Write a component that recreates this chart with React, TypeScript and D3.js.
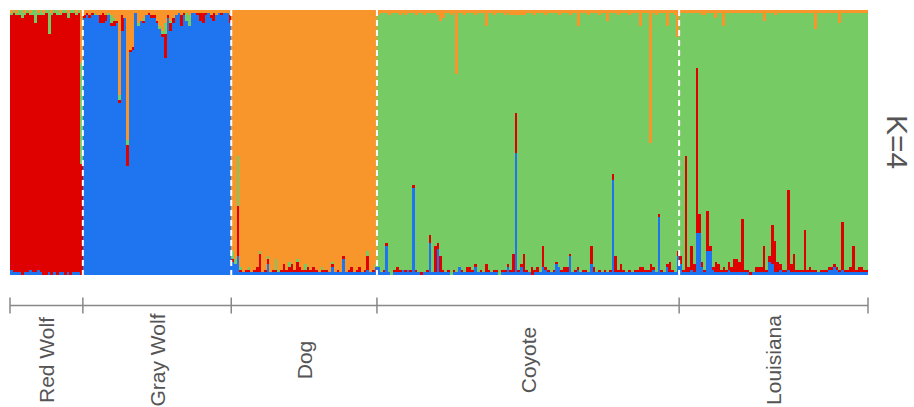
import * as d3 from "d3";

// cluster colours (STRUCTURE K=4)
const clusterKeys = ["blue", "red", "green", "orange"];
const clusterColors: Record<string, string> = {
  blue: "#1f74f0",
  red: "#df0000",
  green: "#77cb64",
  orange: "#f8962b",
};

const groupNames = ["Red Wolf", "Gray Wolf", "Dog", "Coyote", "Louisiana"];
const dominantCluster = ["red", "blue", "orange", "green", "green"];

// ancestry (%) per individual, dominant cluster is what is left over
const redWolfGreen = [1,1,1,2,3,1,1,1,2,5,1,2,1,1,9,1,1,2,1,1,1,2,1,1,1,1,38];
const redWolfOrange = [1,0,1,0,0,1,0,1,0,0,1,0,1,0,0,1,0,0,1,0,0,1,0,0,1,0,20];
const redWolfBlue = [2,1,1,1,0,1,1,2,1,1,2,1,0,0,1,0,1,0,1,1,0,1,0,1,1,1,0];

const grayWolfOrange = [2,1,2,1,1, 2,2,1,2,1, 2,3,4,32,2, 3,49,15,14,1, 5,4,3,2,1, 2,2,4,6,8, 5,2,4,3,2, 1,2,1,1,2, 1,1,1,1,1, 1,1,2,1,2, 1,1,1,1,2];
const grayWolfGreen = [0,0,0,0,1, 0,0,0,0,1, 3,1,0,2,0, 0,2,0,0,0, 1,0,1,0,0, 0,0,0,1,1, 4,0,1,0,0, 0,0,0,3,4, 0,0,0,0,0, 0,0,0,0,0, 0,0,0,0,0];
const grayWolfRed = [1,1,1,1,0, 0,3,4,2,0, 1,2,1,1,6, 0,8,1,1,0, 0,0,1,0,1, 1,1,1,0,1, 9,1,3,2,0, 0,4,1,0,0, 0,0,1,3,4, 1,0,1,3,0, 0,1,0,0,3];

const dogBlue = [5,4,7,1,1, 1,1,1,1,1, 1,1,1,4,1, 1,1,1,1,1, 1,1,1,1,1, 1,1,1,1,1, 1,1,1,1,1, 1,1,3,1,1, 1,6,1,1,1, 1,1,1,1,1, 2,1,1,3];
const dogRed = [1,0,19,1,0, 1,1,0,1,2, 7,0,1,2,0, 1,1,0,1,3, 1,2,3,1,4, 2,1,1,2,1, 2,1,0,1,1, 1,0,1,0,1, 0,1,0,1,2, 0,1,2,0,1, 5,0,1,0];
const dogGreen = [3,2,19,1,0, 0,1,0,0,0, 1,0,0,1,0, 0,4,1,0,0, 0,2,0,0,1, 0,0,2,0,0, 0,0,0,1,0, 0,0,1,0,0, 0,0,0,0,0, 0,0,0,0,0, 2,0,0,1];

const coyoteBlue = [
  3,1,1,11,1,0,1,1,1,2, 1,2,1,33,1,1,0,1,1,12, 1,1,10,1,1,1,1,0,1,1, 3,1,1,1,1,1,3,1,1,1,
  1,1,1,1,1,0,1,1,3,1, 1,46,1,3,1,1,1,0,1,1, 1,3,2,1,1,1,4,3,1,1, 1,7,1,1,2,1,1,1,1,4,
  1,1,1,1,1,1,1,36,1,1, 1,1,1,1,1,1,1,1,1,1, 1,1,2,1,22,1,1,3,1,1, 1,7];
const coyoteRed = [
  0,0,1,1,0,0,1,2,1,0, 1,0,1,1,1,0,1,0,1,3, 0,10,2,6,1,0,1,0,1,0, 0,1,0,2,2,1,1,0,1,0,
  3,1,0,1,1,0,1,1,1,1, 7,15,1,1,7,1,0,3,1,2, 0,8,1,1,0,1,1,0,1,2, 2,1,0,1,1,0,1,1,0,7,
  2,0,1,0,1,0,1,2,6,1, 3,1,0,1,0,1,1,2,2,1, 1,3,1,0,1,1,0,1,4,1, 0,2];
const coyoteOrange = [
  2,1,1,1,2,1,1,1,2,1, 2,1,1,1,2,1,1,2,1,1, 1,1,2,4,3,1,1,2,1,24, 1,1,2,1,1,1,2,1,1,1,
  6,1,1,2,1,1,1,2,1,2, 2,2,2,2,2,1,1,1,2,1, 1,1,2,1,1,1,1,2,1,1, 1,2,1,1,6,1,1,1,2,1,
  1,1,2,1,1,4,1,1,1,2, 1,1,1,2,1,1,1,6,1,1, 1,50,1,2,1,1,1,6,1,1, 2,10];

const louisianaBlue = [
  4,1,1,1,2,1,16,16,3,1, 9,9,2,1,1,1,1,1,2,1, 1,1,1,1,1,1,0,1,1,1, 1,1,1,5,4,1,1,2,1,1,
  2,1,1,1,1,1,1,1,1,1, 1,1,1,1,1,2,2,3,2,1, 2,1,1,1,1,1,1,1,1,1];
const louisianaRed = [
  3,1,44,2,9,3,62,7,2,1, 15,2,1,4,3,1,2,1,3,2, 5,5,4,20,1,1,1,0,2,2, 2,10,1,2,15,12,4,2,1,1,
  30,3,7,1,1,1,16,1,2,1, 1,0,1,1,1,1,1,1,1,1, 18,1,1,2,10,1,2,2,1,1];
const louisianaOrange = [
  1,1,1,1,1,1,1,1,2,2, 1,1,1,3,1,1,6,1,1,1, 1,1,1,1,1,1,1,1,1,1, 1,4,1,1,1,2,1,1,1,1,
  1,1,1,1,1,1,1,1,1,1, 7,1,1,1,1,1,1,1,1,5, 1,1,1,1,1,1,1,1,1,1];

type Row = { id: string; group: number; [k: string]: number | string };

function buildRows(): Row[] {
  const minor: Record<string, number[]>[] = [
    { green: redWolfGreen, orange: redWolfOrange, blue: redWolfBlue },
    { orange: grayWolfOrange, green: grayWolfGreen, red: grayWolfRed },
    { blue: dogBlue, red: dogRed, green: dogGreen },
    { blue: coyoteBlue, red: coyoteRed, orange: coyoteOrange },
    { blue: louisianaBlue, red: louisianaRed, orange: louisianaOrange },
  ];
  const rows: Row[] = [];
  minor.forEach((m, g) => {
    const n = Object.values(m)[0].length;
    for (let i = 0; i < n; i++) {
      const r: Row = { id: `${g}-${i}`, group: g };
      let used = 0;
      clusterKeys.forEach(k => {
        if (m[k]) {
          r[k] = m[k][i];
          used += m[k][i];
        }
      });
      r[dominantCluster[g]] = 100 - used;
      clusterKeys.forEach(k => { if (r[k] === undefined) r[k] = 0; });
      rows.push(r);
    }
  });
  return rows;
}

export default function App() {
  const width = 914;
  const height = 407;
  const left = 10, right = 868, top = 10, bottom = 275;
  const axisY = 305.5;

  const rows = buildRows();

  const x = d3.scaleBand<string>()
    .domain(rows.map(d => d.id))
    .range([left, right])
    .padding(0);
  const y = d3.scaleLinear().domain([0, 100]).range([bottom, top]);

  const series = d3.stack<Row>()
    .keys(clusterKeys)
    .value((d, k) => d[k] as number)(rows);

  // group boundaries
  const counts = groupNames.map((_, g) => rows.filter(r => r.group === g).length);
  const starts = Array.from(d3.cumsum([0, ...counts]));
  const edges = starts.map(s => (s < rows.length ? x(rows[s].id)! : right));
  const bw = x.bandwidth();

  return (
    <svg width={width} height={height} style={{ position: "absolute", left: 0, top: 0 }}>
      <rect width={width} height={height} fill="#fff" />
      {series.map(s => (
        <g key={s.key} fill={clusterColors[s.key]} shapeRendering="crispEdges">
          {s.map((d, i) => {
            const h = y(d[0]) - y(d[1]);
            if (h <= 0) return null;
            return (
              <rect
                key={i}
                x={x(d.data.id)!}
                y={y(d[1])}
                width={bw + 0.3}
                height={h}
              />
            );
          })}
        </g>
      ))}
      {edges.slice(1, -1).map((e, i) => (
        <line
          key={`div-${i}`}
          x1={e} x2={e} y1={top} y2={bottom}
          stroke="#fff"
          strokeWidth={2}
          strokeDasharray="6,4"
        />
      ))}
      <line x1={left} x2={right} y1={axisY} y2={axisY} stroke="#888" strokeWidth={1.5} />
      {edges.map((e, i) => (
        <line key={`tick-${i}`} x1={e} x2={e} y1={axisY - 8} y2={axisY + 8} stroke="#888" strokeWidth={1.5} />
      ))}
      {groupNames.map((name, g) => {
        const mid = (edges[g] + edges[g + 1]) / 2;
        return (
          <text
            key={name}
            transform={`translate(${mid + 7.5},360) rotate(-90)`}
            textAnchor="middle"
            fontFamily="'Liberation Sans', Arial, sans-serif"
            fontSize={21}
            fill="#555"
          >
            {name}
          </text>
        );
      })}
      <text
        transform="translate(887,142) rotate(90)"
        textAnchor="middle"
        fontFamily="'Liberation Sans', Arial, sans-serif"
        fontSize={30}
        fill="#555"
      >
        K=4
      </text>
    </svg>
  );
}
